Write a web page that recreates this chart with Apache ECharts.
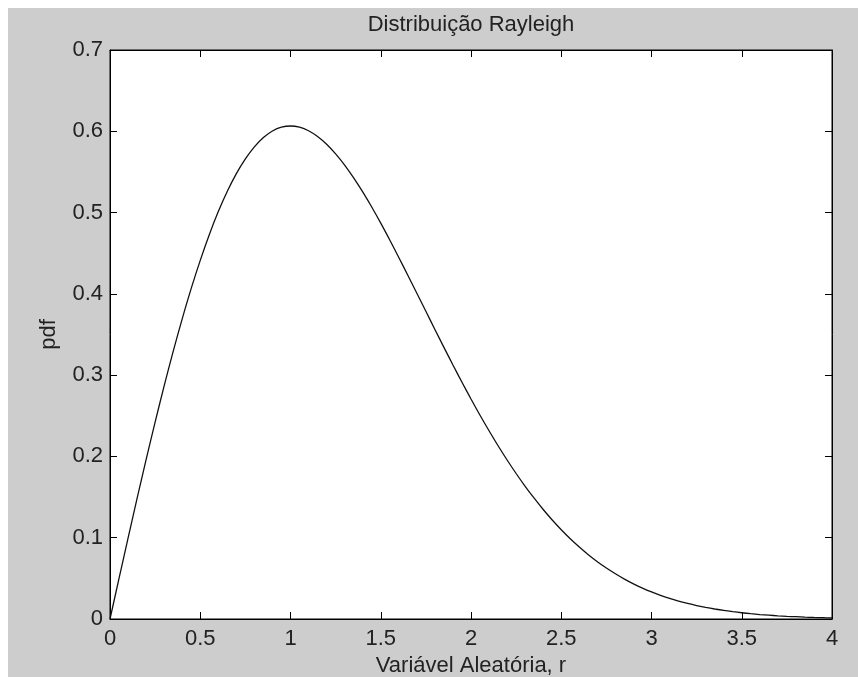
<!DOCTYPE html>
<html>
<head>
<meta charset="utf-8">
<script src="https://cdn.jsdelivr.net/npm/echarts@6/dist/echarts.min.js"></script>
<style>
  html, body { margin: 0; padding: 0; background: #fff; }
  #chart { position: absolute; left: 8px; top: 8px; width: 850px; height: 669px; }
</style>
</head>
<body>
<div id="chart"></div>
<script>
// valores
var rValues = [
  0, 0.05, 0.1, 0.15, 0.2, 0.25, 0.3, 0.35, 0.4, 0.45,
  0.5, 0.55, 0.6, 0.65, 0.7, 0.75, 0.8, 0.85, 0.9, 0.95,
  1, 1.05, 1.1, 1.15, 1.2, 1.25, 1.3, 1.35, 1.4, 1.45,
  1.5, 1.55, 1.6, 1.65, 1.7, 1.75, 1.8, 1.85, 1.9, 1.95,
  2, 2.05, 2.1, 2.15, 2.2, 2.25, 2.3, 2.35, 2.4, 2.45,
  2.5, 2.55, 2.6, 2.65, 2.7, 2.75, 2.8, 2.85, 2.9, 2.95,
  3, 3.05, 3.1, 3.15, 3.2, 3.25, 3.3, 3.35, 3.4, 3.45,
  3.5, 3.55, 3.6, 3.65, 3.7, 3.75, 3.8, 3.85, 3.9, 3.95, 4
];
var pdfValues = [
  0, 0.0499, 0.0995, 0.1483, 0.196, 0.2423, 0.2867, 0.3292, 0.3692, 0.4067,
  0.4412, 0.4728, 0.5012, 0.5262, 0.5479, 0.5661, 0.5809, 0.5923, 0.6003, 0.605,
  0.6065, 0.605, 0.6007, 0.5936, 0.5841, 0.5723, 0.5585, 0.5427, 0.5254, 0.5068,
  0.487, 0.4662, 0.4448, 0.4229, 0.4007, 0.3785, 0.3562, 0.3342, 0.3125, 0.2913,
  0.2707, 0.2507, 0.2316, 0.2131, 0.1956, 0.179, 0.1633, 0.1486, 0.1347, 0.1218,
  0.1098, 0.0987, 0.0885, 0.0791, 0.0705, 0.0627, 0.0556, 0.0491, 0.0433, 0.038,
  0.0333, 0.0291, 0.0254, 0.0221, 0.0191, 0.0165, 0.0143, 0.0123, 0.0105, 0.009,
  0.0077, 0.0065, 0.0055, 0.0047, 0.0039, 0.0033, 0.0028, 0.0023, 0.0019, 0.0016, 0.0013
];

var chart = echarts.init(document.getElementById("chart"));
var font = "Liberation Sans, Arial, sans-serif";
var points = rValues.map(function(r, i) { return [r, pdfValues[i]]; });

function tick() {
  return { show: true, inside: true, length: 7, lineStyle: { color: "#000", width: 1 } };
}
function axisLine() {
  return { show: true, onZero: false, lineStyle: { color: "#000", width: 1 } };
}
function nameStyle() {
  return { fontFamily: font, fontSize: 22, color: "#222" };
}

chart.setOption({
  backgroundColor: "#cdcdcd",
  animation: false,
  grid: {
    left: 102, top: 42, right: 26, bottom: 58,
    outerBoundsMode: "none",
    show: true, backgroundColor: "#fff", borderColor: "#000", borderWidth: 1
  },
  xAxis: [
    {
      type: "value", min: 0, max: 4, interval: 0.5, position: "bottom",
      name: "Variável Aleatória, r", nameLocation: "middle", nameGap: 31,
      nameTextStyle: nameStyle(),
      axisLine: axisLine(), axisTick: tick(), splitLine: { show: false },
      axisLabel: { fontFamily: font, fontSize: 22, color: "#222", margin: 9 }
    },
    {
      type: "value", min: 0, max: 4, interval: 0.5, position: "top",
      name: "Distribuição Rayleigh", nameLocation: "middle", nameGap: 14,
      nameTextStyle: nameStyle(),
      axisLine: axisLine(), axisTick: tick(), splitLine: { show: false },
      axisLabel: { show: false }
    }
  ],
  yAxis: [
    {
      type: "value", min: 0, max: 0.7, interval: 0.1, position: "left",
      name: "pdf", nameLocation: "middle", nameGap: 50, nameRotate: 90,
      nameTextStyle: nameStyle(),
      axisLine: axisLine(), axisTick: tick(), splitLine: { show: false },
      axisLabel: { fontFamily: font, fontSize: 22, color: "#222", margin: 7 }
    },
    {
      type: "value", min: 0, max: 0.7, interval: 0.1, position: "right",
      axisLine: axisLine(), axisTick: tick(), splitLine: { show: false },
      axisLabel: { show: false }
    }
  ],
  series: [
    {
      name: "pdf",
      type: "line",
      xAxisIndex: 0,
      yAxisIndex: 0,
      data: points,
      showSymbol: false,
      smooth: 0.3,
      lineStyle: { color: "#111", width: 1.3 }
    }
  ]
});
</script>
</body>
</html>
